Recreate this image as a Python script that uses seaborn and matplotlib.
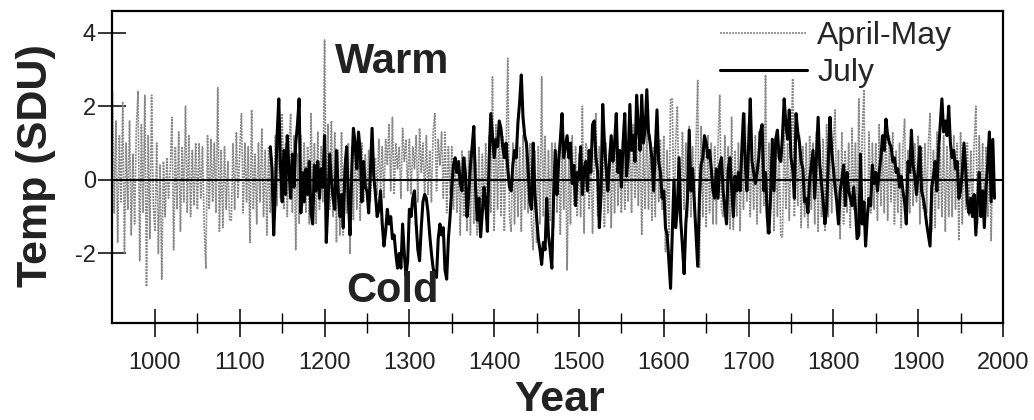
import numpy as np
import pandas as pd
import matplotlib
matplotlib.use("Agg")
import matplotlib.pyplot as plt
import seaborn as sns
from matplotlib.ticker import FixedLocator

# ---------------- data ----------------
am_start = 950          # April-May series, every 2 years
am = [
    2.4, -0.9, 1.6, -1.7, 1.2,     # 950s
    -0.6, 2.1, -2.0, 1.0, -0.8,    # 960s
    1.6, -1.5, 0.7, -1.2, 1.4,     # 970s
    2.4, -2.2, 1.5, -0.9, 2.3,     # 980s
    -2.9, 1.2, -1.6, 2.3, -0.7,    # 990s
    -1.4, 1.0, -2.0, 0.4, -2.7,    # 1000s
    0.5, -1.0, 0.6, -0.5, 0.3,
    1.7, -1.9, 0.9, -0.8, 1.3,
    -1.4, 0.9, -0.6, 2.0, -0.9,
    1.2, -1.0, 0.8, -0.7, 1.0,
    -0.8, 1.0, -0.5, 0.9, -1.2,
    -2.4, 1.2, -0.8, 1.1, -0.6,
    1.0, -0.9, 2.5, -1.4, 0.8,
    -1.3, 0.9, -0.8, 0.5, -1.1,
    -1.1, 1.0, -0.8, 1.3, -0.5,
    0.8, 1.8, -0.9, 1.0, -0.6,     # 1100s
    0.9, -1.7, 1.9, -0.8, 0.7,
    -1.2, 1.0, -0.6, 1.4, -1.0,
    0.8, -1.5, 0.9, -0.9, 0.6,
    -1.0, 1.2, -0.7, 1.0, -0.5,
    1.8, -0.8, 1.0, -1.0, 0.9,
    1.8, -0.9, 1.2, -1.9, 0.7,
    -1.2, 1.2, -0.7, 1.0, -0.9,
    0.9, -1.2, 1.8, -0.7, 1.0,
    -1.2, 1.3, -0.8, 0.9, -0.6,
    3.8, -1.2, 1.5, -0.8, 1.6,     # 1200s
    -1.0, 1.3, -1.7, 0.8, -1.5,
    1.3, -1.5, 0.6, -0.9, 1.0,
    -2.0, 0.9, -1.1, 1.0, -0.8,
    0.8, -1.1, 1.0, -0.6, 0.7,
    -0.5, 0.8, -0.6, 0.6, 0.3,
    0.6, -0.4, 1.1, -0.3, 0.9,
    -0.5, 1.1, 0.4, 1.5, -0.3,
    1.7, -0.4, 1.0, 0.3, 0.9,
    -0.5, 1.4, 0.5, 1.1, -0.3,
    1.1, -0.4, 0.9, 0.3, 1.2,      # 1300s
    -0.6, 1.4, 0.2, 1.0, -0.5,
    1.2, -0.4, 0.8, -0.6, 1.3,
    1.8, -0.3, 1.1, 0.4, 1.3,
    -0.5, 1.3, -0.9, 0.9, -0.4,
    0.9, -0.8, 0.6, -0.9, 0.5,
    -1.5, 0.8, -1.0, 0.6, -1.4,
    0.8, -1.5, 1.0, -1.2, 0.5,
    -1.5, 0.9, -1.3, 0.7, -0.8,
    1.0, -1.4, 1.2, -0.9, 2.8,
    -1.4, 1.5, -0.8, 1.6, -1.0,    # 1400s
    1.2, -1.4, 0.8, 3.3, -1.0,
    -1.4, 1.0, -1.2, 0.9, -1.0,
    0.9, -1.4, 1.2, -0.8, 0.7,
    -0.9, 1.0, -1.2, -1.9, 0.8,
    -1.7, 0.9, -1.2, 2.8, -1.0,
    1.2, -1.5, 0.8, -1.1, 1.0,
    -1.3, 1.0, -0.9, 0.8, -1.5,
    1.2, -0.8, 0.9, -2.45, 0.6,
    -1.2, 1.2, -0.7, 0.9, -1.0,
    0.7, -1.0, 2.0, -1.45, 1.0,    # 1500s
    0.8, -0.8, 0.7, -1.45, 0.6,
    1.8, -1.0, 0.9, -0.7, 1.0,
    -1.3, 1.0, -0.9, 0.8, -1.3,
    1.0, -0.9, 1.2, -0.7, 0.8,
    -0.9, 1.2, -0.8, 1.0, -0.6,
    1.2, -0.9, 1.5, -0.5, 1.0,
    -0.7, 1.3, -1.5, 1.0, -0.8,
    1.6, -0.8, 1.2, -1.1, 0.9,
    -1.0, 1.8, -0.6, 1.1, -0.8,
    1.2, -1.95, 0.8, -1.5, 2.2,    # 1600s
    2.2, -1.3, 1.0, 2.0, -0.9,
    -1.2, 1.3, -0.8, 1.0, -1.0,
    1.45, -1.0, 0.9, -0.8, 1.0,
    2.7, -2.4, 1.45, -1.0, 1.2,
    -1.3, 1.2, -0.9, 1.0, -1.2,
    0.9, -1.2, 1.0, 2.3, -0.8,
    -1.0, 1.2, -0.6, 0.9, -1.35,
    1.7, -1.35, 0.8, -1.0, 1.0,
    -1.4, 1.0, -0.8, 1.8, -0.6,
    1.5, -1.0, 0.9, -0.8, 1.2,     # 1700s
    -1.2, 1.3, -0.9, 1.0, -0.7,
    2.85, -1.45, 1.0, -0.8, 1.1,
    -1.4, 1.2, -1.0, 0.9, -1.55,
    -1.55, 1.4, -0.8, 1.0, -1.1,
    0.9, 2.75, -1.0, 1.0, -0.7,
    1.2, -1.3, 0.9, -1.0, 1.0,
    -1.3, 1.2, -0.8, 1.0, -1.2,
    1.3, -1.4, 0.8, -1.0, 1.1,
    -1.4, 1.5, -1.0, 0.8, -0.9,
    1.0, 1.9, -0.9, 0.8, -1.6,     # 1800s
    1.3, -1.2, 0.8, -0.9, 1.0,
    -1.3, 1.4, -0.8, 1.0, -1.2,
    2.2, -1.0, 1.2, 2.45, -1.3,
    -1.3, 1.3, -0.9, 1.0, -0.8,
    1.0, -1.1, 1.5, -0.7, 0.9,
    -0.9, 1.65, -1.1, 1.2, -0.6,
    1.3, -1.2, 0.8, -0.9, 1.0,
    -1.3, 0.9, 1.65, -1.0, 0.8,
    -0.9, 1.2, -0.7, 1.0, -0.6,
    1.2, -1.2, 0.9, -0.8, 1.0,     # 1900s
    -0.9, 1.0, 1.8, -1.4, 0.8,
    -1.3, 1.3, -0.8, 0.9, -1.0,
    1.2, -1.4, 0.9, -1.0, 1.0,
    -1.0, 1.2, -0.8, 1.0, -1.65,
    1.3, -1.2, 0.9, -0.8, 1.0,
    -1.0, 0.8, -0.9, 1.0, 2.0,
    -1.2, 1.2, -0.6, 1.0, -1.0,
    0.9, -1.0, 1.1, -1.65, 0.7,
    -0.5,
]

jul_start = 1136        # July series, every 2 years
jul = [
    0.9, 0.3,                       # 1136-1138
    -1.5, -0.3, 1.2, 2.2, 0.4,      # 1140s
    -0.6, 0.8, -0.4, 1.2, 0.3,
    -0.5, 0.7, -0.2, 1.0, 1.5,
    2.2, -0.9, 0.2, -0.6, 0.3,
    -0.4, 0.5, -0.9, -1.2, 0.4,
    -0.3, 0.5, -0.5, 0.3, -0.2,
    1.2, -1.7, -0.6, 0.7, 0.0,      # 1200s
    -0.5, -0.8, 0.8, -0.3, -1.0,
    -0.4, -1.3, 0.3, 0.9, -0.5,
    -1.5, 0.2, 1.4, 1.0, 0.3,
    1.3, 0.8, -0.6, 0.5, -0.2,
    -0.3, -0.9, 0.2, 1.4, 0.1,
    -0.4, -1.0, -0.8, -0.3, -1.2,
    -1.8, -1.4, -0.8, -1.2, -1.0,
    -1.6, -1.5, -2.0, -2.4, -2.0,
    -2.4, -1.2, -2.0, -2.6, -2.2,
    -0.8, -1.0, -0.5, -0.3, -1.2,   # 1300s
    -1.9, -2.2, -1.3, -0.6, -0.4,
    -0.5, -0.9, -1.5, -2.0, -2.4,
    -2.6, -2.65, -1.6, -1.2, -1.5,
    -1.3, -2.45, -2.7, -1.6, -1.0,
    -0.2, 0.4, 0.6, 0.2, 0.5,
    -0.1, -0.3, 0.6, 0.2, -1.0,
    -0.4, 0.4, 0.9, 1.45, -0.2,
    -1.1, -0.5, -1.55, -0.9, -0.2,
    -0.6, -1.4, 0.5, 1.8, 1.2,
    0.6, 1.1, 0.9, 1.6, 1.4,        # 1400s
    0.9, 0.6, 1.0, 0.3, -0.2,
    -0.3, 0.4, 0.8, 0.6, 1.55,
    2.1, 2.85, 1.7, 1.2, 1.0,
    0.3, -0.6, -0.8, 1.0, -0.4,
    -1.0, -1.6, -1.9, -2.3, -1.7,
    -1.9, -0.5, -1.5, -1.9, -2.4,
    -0.5, 0.8, -0.4, 0.5, 1.1,
    1.8, 0.6, 0.9, 1.2, 0.6,
    1.0, -0.1, 0.4, -0.7, 0.2,
    0.0, 0.9, -0.4, 0.3, 0.5,       # 1500s
    -0.3, 0.8, 0.2, 1.5, 1.6,
    0.6, 0.2, -1.3, -0.4, 2.05,
    1.0, 0.3, -0.3, 0.5, 1.2,
    0.5, 1.0, 1.8, 0.2, 0.8,
    -0.2, 1.0, 1.8, 0.1, 0.6,
    2.05, 0.8, 1.2, 0.5, 2.3,
    1.4, 0.8, 2.3, 1.0, 1.4,
    2.45, 1.3, 1.0, 0.6, -0.3,
    0.8, 1.9, 0.5, 0.2, -0.5,
    -0.3, -1.3, -1.5, -2.2, -2.95,  # 1600s
    -1.5, 0.0, -1.3, -0.8, 0.6,
    -1.1, -1.8, -2.55, -1.2, -0.5,
    1.35, -0.3, 0.3, -0.6, -1.5,
    -2.35, -0.5, 0.4, 0.6, 1.2,
    1.0, 0.6, 0.8, 0.3, -0.3,
    -0.5, 0.3, -0.5, 0.4, 0.6,
    -0.3, -0.8, -1.2, 0.3, 0.6,
    -0.2, -1.0, 0.1, -0.3, 0.2,
    -0.3, 0.8, 1.8, 0.5, -0.3,
    0.9, 2.2, 0.5, 0.2, -0.1,       # 1700s
    0.2, 0.6, 1.3, 1.5, -0.3,
    0.2, -1.0, -1.45, -0.4, 1.1,
    -0.3, 1.1, 1.35, 0.6, 0.5,
    1.2, 2.2, 1.5, 1.1, 1.9,
    0.6, 0.3, -0.5, 1.8, 1.3,
    1.0, 0.5, 0.3, -0.6, -0.5,
    -0.9, 0.0, 0.4, 0.8, -0.5,
    0.6, 1.7, 0.4, -0.1, -0.6,
    -1.2, -0.8, 0.5, 1.7, 0.8,
    0.3, -0.2, -0.6, -1.2, -0.3,    # 1800s
    0.0, 0.4, -0.7, 0.2, -0.3,
    -0.5, -0.7, -0.2, -0.8, -1.6,
    -1.5, 0.7, -1.2, -0.6, -1.8,
    -1.0, -0.5, -0.7, 0.4, -0.1,
    0.2, -0.3, 0.2, 0.6, 1.2,
    0.8, 1.65, 1.2, 1.0, 0.9,
    0.5, 0.6, 0.2, 0.3, -0.2,
    0.1, -0.3, -0.6, -1.2, 0.5,
    0.2, 1.35, 0.4, 0.1, -0.4,
    0.2, 0.9, -0.3, -0.5, -0.8,     # 1900s
    -1.2, -1.5, -1.8, -0.2, 0.1,
    0.5, -0.3, 0.8, 1.5, 2.2,
    1.3, 1.6, 1.2, 2.0, 1.0,
    0.6, 0.8, 0.3, 0.5, -0.5,
    -0.3, 0.2, 1.0, 0.3, -0.6,
    -0.9, -0.5, -1.0, -0.4, -1.5,
    -0.6, 0.2, -1.0, -0.3, -1.3,
    -0.2, 0.4, 1.3, -0.6, 1.1,
    -0.5,
]

x_ticks = [1000, 1100, 1200, 1300, 1400, 1500, 1600, 1700, 1800, 1900, 2000]
y_ticks = [-2, 0, 2, 4]
series_labels = ["April-May", "July"]

# ---------------- figure ----------------
sns.set_style("white")
plt.rcParams["font.family"] = ["Liberation Sans Narrow", "Liberation Sans", "DejaVu Sans"]

fig = plt.figure(figsize=(10.34, 4.2), dpi=100)
ax = fig.add_axes([0.1083, 0.231, 0.8617, 0.743])

df_am = pd.DataFrame({"Year": am_start + 2 * np.arange(len(am)), "Temp": am})
df_jul = pd.DataFrame({"Year": jul_start + 2 * np.arange(len(jul)), "Temp": jul})

sns.lineplot(data=df_am, x="Year", y="Temp", ax=ax, color="#888888",
             lw=1.2, linestyle=(0, (1.2, 0.6)), label=series_labels[0], zorder=2)
sns.lineplot(data=df_jul, x="Year", y="Temp", ax=ax, color="black",
             lw=2.2, label=series_labels[1], zorder=3)
ax.axhline(0, color="black", lw=1.5, zorder=4)

ax.set_xlim(949.3, 2000)
ax.set_ylim(-3.89, 4.59)
ax.set_xticks(x_ticks)
ax.set_xticklabels([str(t) for t in x_ticks])
ax.xaxis.set_minor_locator(FixedLocator(list(range(1050, 2000, 100))))
ax.set_yticks(y_ticks)
ax.set_yticklabels([str(t) for t in y_ticks])

ax.tick_params(axis="both", which="major", direction="inout", length=20,
               width=1.1, color="black", labelsize=17, labelcolor="#222222",
               bottom=True, left=True)
ax.tick_params(axis="x", which="major", pad=11)
ax.tick_params(axis="y", which="major", pad=1.5)
ax.tick_params(axis="x", which="minor", direction="inout", length=14,
               width=1.0, color="black", bottom=True)

for s in ax.spines.values():
    s.set_color("black")
    s.set_linewidth(1.6)

lab_font = dict(family="Liberation Sans", fontweight="bold", fontsize=31, color="#222222")
ax.set_xlabel("Year", va="baseline", **lab_font)
ax.xaxis.set_label_coords(0.503, -0.283)
ax.set_ylabel("Temp (SDU)", va="center", **lab_font)
ax.yaxis.set_label_coords(-0.085, 0.506)

ax.text(1212, 2.9, "Warm", fontsize=30, fontweight="bold", family="Liberation Sans",
        color="#222222", ha="left", va="baseline")
ax.text(1226, -3.32, "Cold", fontsize=30, fontweight="bold", family="Liberation Sans",
        color="#222222", ha="left", va="baseline")

handles, labels = ax.get_legend_handles_labels()
ax.legend(handles, labels, loc="upper left", bbox_to_anchor=(0.682, 0.968),
          frameon=False, prop={"family": "Liberation Sans", "size": 23},
          handlelength=2.75, handletextpad=0.3, labelspacing=0.22,
          borderpad=0, borderaxespad=0)

fig.savefig("out.png", dpi=100, facecolor="white")
